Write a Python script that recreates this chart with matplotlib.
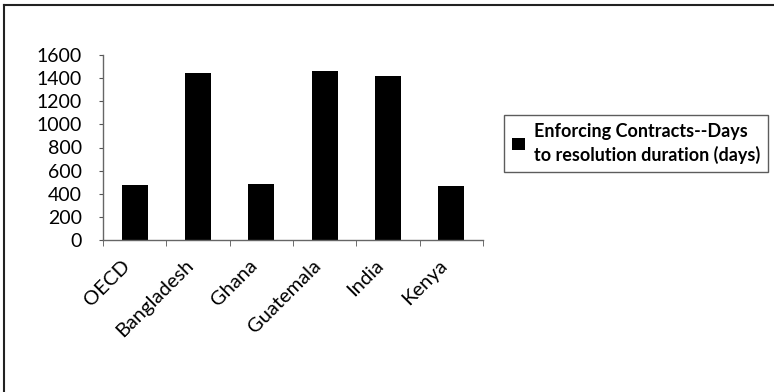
import matplotlib.pyplot as plt
from matplotlib.lines import Line2D
from matplotlib.transforms import ScaledTranslation
import numpy as np

# days needed to enforce a contract
pays = ['OECD', 'Bangladesh', 'Ghana', 'Guatemala', 'India', 'Kenya']
jours = [475, 1442, 487, 1459, 1420, 465]
legende = 'Enforcing Contracts--Days\nto resolution duration (days)'

plt.rcParams['font.family'] = ['Lato', 'DejaVu Sans']

fig = plt.figure(figsize=(7.74, 3.92), dpi=100)
ax = fig.add_axes([103 / 774, 1 - 240 / 392, 380 / 774, 185 / 392])

x = np.arange(len(pays))
ax.bar(x, jours, width=0.41, color='black', label=legende)

ax.set_xlim(-0.5, len(pays) - 0.5)
ax.set_ylim(0, 1600)
ax.set_yticks(range(0, 1601, 200))
ax.tick_params(axis='y', labelsize=14, length=3, color='#555555', pad=12)

# category labels in the middle, tick marks between categories
ax.set_xticks(x)
ax.set_xticklabels(pays, rotation=45, ha='right', rotation_mode='anchor', fontsize=14.5)
ax.tick_params(axis='x', which='major', length=0, pad=12)
decale = ScaledTranslation(-13 / 100, 0, fig.dpi_scale_trans)
for lab in ax.get_xticklabels():
    lab.set_transform(lab.get_transform() + decale)
ax.set_xticks(np.arange(-0.5, len(pays)), minor=True)
ax.tick_params(axis='x', which='minor', length=4, color='#555555')

for s in ['top', 'right']:
    ax.spines[s].set_visible(False)
for s in ['left', 'bottom']:
    ax.spines[s].set_color('#666666')
    ax.spines[s].set_linewidth(1)

leg = ax.legend(loc='upper left', bbox_to_anchor=(504 / 774, 1 - 115 / 392),
                bbox_transform=fig.transFigure, frameon=True, fancybox=False,
                prop={'weight': 'bold', 'size': 13}, handlelength=0.7,
                handleheight=0.7, handletextpad=0.5, borderpad=0.45,
                borderaxespad=0)
leg.get_frame().set_edgecolor('#333333')
leg.get_frame().set_linewidth(1)
for t in leg.get_texts():
    t.set_linespacing(1.35)

# chart frame (top and left edges)
fig.add_artist(Line2D([4 / 774, 4 / 774], [0, 1 - 5 / 392], color='#222222', lw=1.5,
                      transform=fig.transFigure))
fig.add_artist(Line2D([4 / 774, 1], [1 - 5 / 392, 1 - 5 / 392], color='#222222', lw=1.5,
                      transform=fig.transFigure))

fig.savefig('out.png', dpi=100)
